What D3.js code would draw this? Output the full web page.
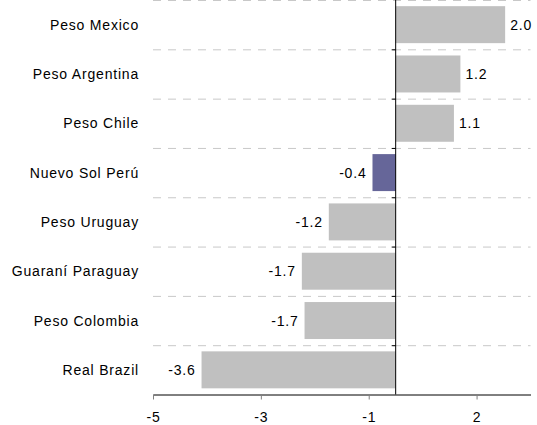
<!DOCTYPE html>
<html>
<head>
<meta charset="utf-8">
<script src="https://cdn.jsdelivr.net/npm/d3@7"></script>
<style>
  html, body { margin: 0; padding: 0; background: #fff; }
  svg { display: block; }
  text { font-family: "Liberation Sans", Arial, Helvetica, sans-serif; font-size: 14px; fill: #000; letter-spacing: 0.8px; }
</style>
</head>
<body>
<div id="chart"></div>
<script>
const categories = ["Peso Mexico", "Peso Argentina", "Peso Chile", "Nuevo Sol Perú", "Peso Uruguay", "Guaraní Paraguay", "Peso Colombia", "Real Brazil"];
const values = [2.03, 1.2, 1.08, -0.43, -1.24, -1.74, -1.69, -3.6];
const highlighted = ["Nuevo Sol Perú"];
const tickValues = [-4.5, -2.5, -0.5, 1.5];
const tickLabels = ["-5", "-3", "-1", "2"];

const W = 537, H = 425;
const margin = { top: 0, right: 6.5, bottom: 30.5, left: 153 };
const innerW = W - margin.left - margin.right;
const innerH = H - margin.top - margin.bottom;

const svg = d3.select("#chart").append("svg").attr("width", W).attr("height", H);
const g = svg.append("g").attr("transform", `translate(${margin.left},${margin.top})`);

const x = d3.scaleLinear().domain([-4.5, 2.5]).range([0, innerW]);
const y = d3.scaleBand().domain(categories).range([0, innerH]).paddingInner(0.25).paddingOuter(0.125);
const step = y.step();

// dashed gridlines at category boundaries
const bounds = d3.range(categories.length).map(i => i * step);
g.selectAll(".grid").data(bounds).enter().append("line")
  .attr("x1", 0).attr("x2", innerW)
  .attr("y1", d => d + 0.5).attr("y2", d => d + 0.5)
  .attr("stroke", "#c8c8c8").attr("stroke-width", 1).attr("stroke-dasharray", "8,7");

// bars
g.selectAll(".bar").data(categories).enter().append("rect")
  .attr("x", (d, i) => x(Math.min(0, values[i])))
  .attr("width", (d, i) => Math.abs(x(values[i]) - x(0)))
  .attr("y", d => y(d))
  .attr("height", y.bandwidth())
  .attr("fill", d => highlighted.includes(d) ? "#666699" : "#c0c0c0");

// value labels
g.selectAll(".val").data(categories).enter().append("text")
  .attr("x", (d, i) => values[i] >= 0 ? x(values[i]) + 5 : x(values[i]) - 6)
  .attr("y", d => y(d) + y.bandwidth() / 2 + 5)
  .attr("text-anchor", (d, i) => values[i] >= 0 ? "start" : "end")
  .text((d, i) => values[i].toFixed(1));

// category labels
g.selectAll(".cat").data(categories).enter().append("text")
  .attr("x", -14)
  .attr("y", d => y(d) + y.bandwidth() / 2 + 5)
  .attr("text-anchor", "end")
  .text(d => d);

// zero line with small ticks to the left
g.append("line")
  .attr("x1", x(0)).attr("x2", x(0)).attr("y1", 0).attr("y2", innerH)
  .attr("stroke", "#000").attr("stroke-width", 1);
g.selectAll(".ztick").data(bounds.slice(1)).enter().append("line")
  .attr("x1", x(0) - 4).attr("x2", x(0))
  .attr("y1", d => d + 0.5).attr("y2", d => d + 0.5)
  .attr("stroke", "#000");

// x axis
const xAxis = d3.axisBottom(x)
  .tickValues(tickValues)
  .tickFormat((d, i) => tickLabels[i])
  .tickSize(5).tickSizeOuter(0).tickPadding(13);
const ax = g.append("g").attr("transform", `translate(0,${innerH})`).call(xAxis);
ax.select(".domain").attr("stroke", "#000");
ax.selectAll(".tick line").attr("stroke", "#808080");
ax.selectAll(".tick text").attr("font-family", null).attr("font-size", null).style("font-size", "14px");
</script>
</body>
</html>
